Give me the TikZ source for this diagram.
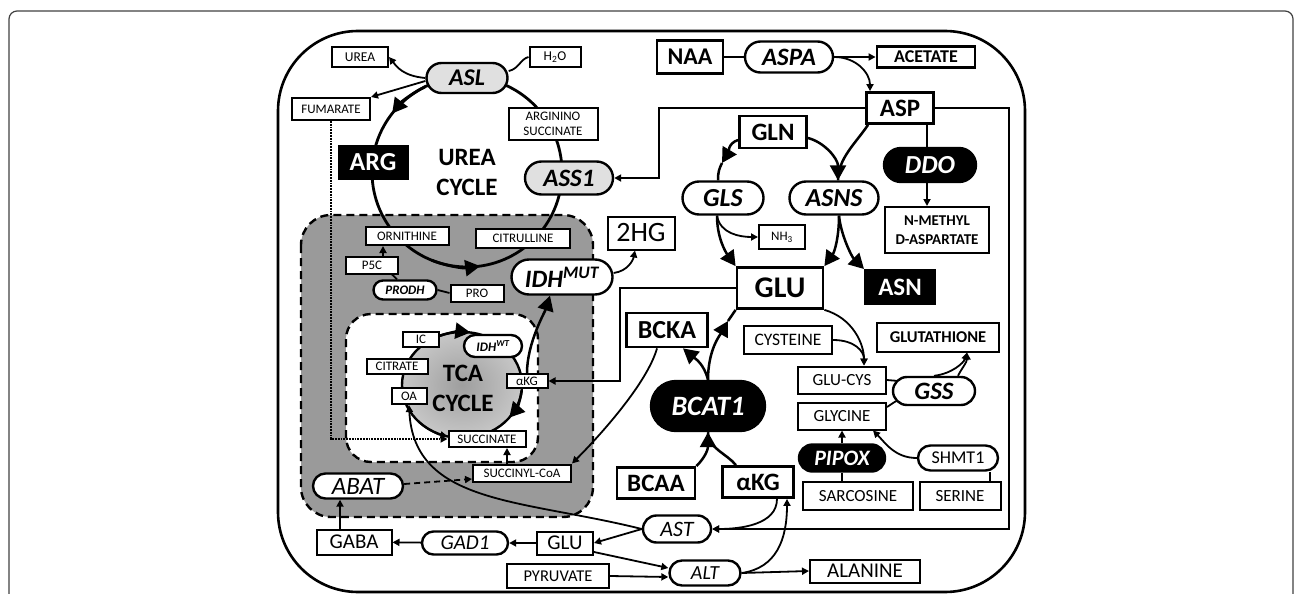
\documentclass[tikz,border=0pt]{standalone}
\usepackage{fontspec}
\setmainfont{Carlito}
\usetikzlibrary{arrows.meta,shapes.misc,calc}
\newcommand\fsz[1]{\fontsize{#1}{#1}\selectfont}
\definecolor{lgray}{HTML}{E0E0E0}
\definecolor{rgray}{HTML}{9A9A9A}
\begin{document}
\begin{tikzpicture}[x=1pt,y=-1pt,
 sz/.style 2 args={minimum width=#1pt, minimum height=#2pt},
 box/.style={draw, fill=white, rectangle, inner sep=0pt, line width=2pt, align=center},
 bx/.style={box, line width=2.8pt, font=\bfseries\fsz{25}},
 pill/.style={draw, fill=white, rounded rectangle, inner sep=0pt, line width=2.4pt},
 blk/.style={fill=black, text=white},
 ln/.style={line width=1.8pt},
 thk/.style={line width=2.5pt},
 arr/.style={line width=1.8pt, -{Triangle[length=7pt,width=7pt]}},
 bigarr/.style={line width=2.5pt, -{Triangle[length=15pt,width=16pt]}}
]
\useasboundingbox (0,0) rectangle (1296,594);
% outer frame
\begin{scope}
\clip (0,0) rectangle (1296,594);
\draw[line width=1.2pt, black!75, rounded corners=8pt] (9,11) rectangle (1293,640);
\end{scope}
% cell
\draw[line width=2.6pt, rounded corners=80pt] (278,31) rectangle (1025,592);
% mitochondrion regions
\draw[line width=2.4pt, dash pattern=on 8pt off 5pt, fill=rgray, rounded corners=30pt] (301,215) rectangle (593,517);
\draw[line width=2.4pt, dash pattern=on 8pt off 5pt, fill=white, rounded corners=25pt] (346,314) rectangle (538,462);
% TCA cycle
\coordinate (tc) at (462,385);
\begin{scope}
\clip (tc) ellipse[x radius=60, y radius=53];
\shade[inner color=black!38, outer color=black!6] (tc) ellipse[x radius=120, y radius=106];
\end{scope}
\draw[line width=2.4pt] (tc) ellipse[x radius=60, y radius=53];
\draw[bigarr] ($(tc)+(-112:60 and 53)$) arc[start angle=-112, end angle=-82, x radius=60, y radius=53];
\draw[bigarr] ($(tc)+(6:60 and 53)$) arc[start angle=6, end angle=38, x radius=60, y radius=53];
\draw[arr] ($(tc)+(135:60 and 53)$) arc[start angle=135, end angle=104, x radius=60, y radius=53];
% urea cycle
\coordinate (uc) at (467,172);
\draw[line width=2.8pt] (uc) circle[radius=95];
\draw[bigarr, line width=2.8pt] ($(uc)+(-116:95)$) arc[start angle=-116, end angle=-142, radius=95];
\draw[bigarr, line width=2.8pt] ($(uc)+(112:95)$) arc[start angle=112, end angle=82, radius=95];

% nodes
\node[box,sz={56}{20},font=\fsz{13.5}] (urea) at (360,57) {UREA};
\node[box,sz={51}{20},font=\fsz{13.5}] (h2o) at (555,57) {H\textsubscript{2}O};
\node[pill,sz={81}{30},fill=lgray,font=\bfseries\itshape\fsz{24}] (asl) at (467,78) {ASL};
\node[box,sz={78}{22},font=\fsz{13}] (fum) at (331,109) {FUMARATE};
\node[box,sz={89}{32},font=\fontsize{13}{15}\selectfont] (asuc) at (553,124) {ARGININO\\SUCCINATE};
\node[box,blk,sz={69}{33},font=\bfseries\fsz{26}] (arg) at (373,162) {ARG};
\node[font=\bfseries\fontsize{25}{30}\selectfont, align=center] (uct) at (467,172) {UREA\\CYCLE};
\node[pill,sz={88}{33},fill=lgray,font=\bfseries\itshape\fsz{25}] (ass) at (569,178) {ASS1};
\node[box,sz={83}{18},font=\fsz{13}] (orn) at (407,236) {ORNITHINE};
\node[box,sz={94}{19},font=\fsz{13}] (cit) at (523,238) {CITRULLINE};
\node[box,sz={52}{17},font=\fsz{13}] (p5c) at (372,265) {P5C};
\node[pill,sz={63}{19},font=\bfseries\itshape\fsz{13}] (prodh) at (405,290) {PRODH};
\node[box,sz={53}{17},font=\fsz{13}] (pro) at (477,293) {PRO};
\node[pill,sz={101}{35},font=\bfseries\itshape\fsz{25}] (idhm) at (562,277) {IDH\textsuperscript{MUT}};
\node[box,sz={67}{33},font=\fsz{28}] (hg) at (641,233) {2HG};
\node[box,sz={36}{15},font=\fsz{13}] (ic) at (421,339) {IC};
\node[pill,sz={58}{22},font=\bfseries\itshape\fsz{13}] (idhw) at (493,346) {IDH\textsuperscript{WT}};
\node[box,sz={61}{15},font=\fsz{13}] (citr) at (397,366) {CITRATE};
\node[box,sz={41}{14},font=\fsz{13}] (akga) at (527,381) {αKG};
\node[box,sz={35}{16},font=\fsz{13}] (oa) at (409,396) {OA};
\node[font=\bfseries\fontsize{25}{30}\selectfont, align=center] (tcat) at (463,388) {TCA\\CYCLE};
\node[box,sz={77}{16},font=\fsz{13}] (succ) at (487,439) {SUCCINATE};
\node[box,sz={98}{17},font=\fsz{13}] (scoa) at (522,473) {SUCCINYL-CoA};
\node[pill,sz={90}{25},font=\itshape\fsz{25}] (abat) at (358,486) {ABAT};
\node[box,sz={75}{25},font=\fsz{21}] (gaba) at (354,542) {GABA};
\node[pill,sz={86}{23},font=\itshape\fsz{21}] (gad) at (465,543) {GAD1};
\node[box,sz={56}{23},font=\fsz{21}] (glub) at (565,543) {GLU};
\node[box,sz={102}{24},font=\fsz{16.5}] (pyr) at (558,576) {PYRUVATE};
\node[pill,blk,sz={114}{50},font=\bfseries\itshape\fsz{28}] (bcat) at (708,406) {BCAT1};
\node[bx,sz={81}{34},font=\bfseries\fsz{26}] (bcka) at (667,330) {BCKA};
\node[bx,sz={86}{41},font=\bfseries\fsz{30}] (glu) at (780,288) {GLU};
\node[box,sz={88}{28},font=\fsz{17.5}] (cys) at (788,340) {CYSTEINE};
\node[box,sz={122}{29},font=\bfseries\fsz{16.5}] (gsh) at (938,337) {GLUTATHIONE};
\node[box,sz={88}{27},font=\fsz{17}] (gc) at (842,380) {GLU-CYS};
\node[pill,sz={82}{28},font=\bfseries\itshape\fsz{25}] (gss) at (934,391) {GSS};
\node[box,sz={88}{27},font=\fsz{17}] (gly) at (842,416) {GLYCINE};
\node[pill,blk,sz={86}{27},font=\bfseries\itshape\fsz{22}] (pipox) at (842,458) {PIPOX};
\node[box,sz={110}{28},font=\fsz{17}] (sar) at (858,496) {SARCOSINE};
\node[pill,sz={80}{25},font=\fsz{18}] (shmt) at (958,458) {SHMT1};
\node[box,sz={81}{28},font=\fsz{17}] (ser) at (960,496) {SERINE};
\node[bx,sz={78}{31}] (bcaa) at (656,483) {BCAA};
\node[bx,sz={71}{31}] (akgb) at (758,482) {αKG};
\node[pill,sz={68}{27},font=\itshape\fsz{22}] (ast) at (677,529) {AST};
\node[pill,sz={71}{25},font=\itshape\fsz{20}] (alt) at (705,573) {ALT};
\node[box,sz={110}{23},font=\fsz{21}] (ala) at (865,571) {ALANINE};
\node[bx,sz={66}{33},font=\bfseries\fsz{24}] (naa) at (690,57) {NAA};
\node[pill,sz={88}{31},font=\bfseries\itshape\fsz{25}] (aspa) at (789,57) {ASPA};
\node[bx,sz={98}{21},font=\bfseries\fsz{18}] (acet) at (926,57) {ACETATE};
\node[bx,sz={67}{31}] (asp) at (900,108) {ASP};
\node[bx,sz={67}{32}] (gln) at (773,132) {GLN};
\node[pill,blk,sz={92}{34},font=\bfseries\itshape\fsz{26}] (ddo) at (930,165) {DDO};
\node[pill,sz={81}{33},font=\bfseries\itshape\fsz{26}] (gls) at (723,198) {GLS};
\node[pill,sz={89}{33},font=\bfseries\itshape\fsz{26}] (asns) at (834,198) {ASNS};
\node[box,sz={104}{46},font=\bfseries\fontsize{15}{19}\selectfont] (nmda) at (937,230) {N-METHYL\\D-ASPARTATE};
\node[box,sz={46}{24},font=\fsz{13}] (nh3) at (782,237) {NH\textsubscript{3}};
\node[box,blk,sz={70}{34},font=\bfseries\fsz{25}] (asn) at (900,287) {ASN};

% helper coordinates
\coordinate (k1) at (659,178);
\coordinate (k2) at (620,381);
\coordinate (k3) at (1009,108);
\coordinate (k4) at (1009,529);
\coordinate (m1) at (722,163);
\coordinate (m2) at (728,321);

% urea side
\draw[arr] (asl.west) .. controls +(-22,-2) and +(8,10) .. (urea.east);
\draw[ln] ([yshift=7pt]asl.east) .. controls +(10,-2) and +(-8,2) .. (h2o.west);
\draw[arr] ([yshift=-3pt]asl.west) -- (fum.north east);
\draw[ln, densely dotted, -{Triangle[length=7pt,width=7pt]}] (fum.south) |- (succ.west);
\draw[arr] (asp.west) -| (k1) -- (ass.east);
\draw[arr] ([xshift=11pt]p5c.north) -- ([xshift=-24pt]orn.south);
\draw[ln] ([xshift=20pt]p5c.south) -- ([xshift=-8pt]prodh.north);
\draw[ln] (prodh.east) -- (pro.west);

% NAA / ASP
\draw[ln] (naa) -- (aspa);
\draw[arr] (aspa) -- (acet);
\draw[arr] (aspa.east) .. controls +(22,0) and +(0,-18) .. ([xshift=-30pt]asp.north);
\draw[ln] ([xshift=27pt]asp.south) -- ([xshift=-3pt]ddo.north);
\draw[arr] ([xshift=-3pt]ddo.south) -- ([xshift=-10pt]nmda.north);
\draw[arr] (asp.east) -- (k3) -- (k4) -- (ast.east);

% GLN / GLU
\draw[bigarr] ([yshift=-8pt]gln.west) .. controls +(-10,3) and +(6,-10) .. (m1);
\draw[thk] (m1) .. controls +(-3,6) and +(0,-8) .. ([xshift=-5pt]gls.north);
\draw[bigarr] ([xshift=-6pt]gls.south) .. controls +(0,22) and +(-10,-14) .. (glu.north west);
\draw[arr] ([xshift=-6pt]gls.south) .. controls +(3,18) and +(-18,0) .. (nh3.west);
\draw[thk] ([xshift=-32pt]asp.south) .. controls +(-12,18) and +(0,-22) .. ([xshift=4pt]asns.north);
\draw[bigarr] ([yshift=-6pt]gln.east) .. controls +(16,4) and +(0,-22) .. ([xshift=4pt]asns.north);
\draw[bigarr] ([xshift=5pt]asns.south) .. controls +(0,22) and +(10,-14) .. (glu.north east);
\draw[bigarr] ([xshift=5pt]asns.south) .. controls +(2,20) and +(-12,-12) .. (asn.north west);
\draw[arr] (glu.west) -| (k2) -- (akga.east);

% BCAT1
\draw[bigarr] (bcat.north) .. controls +(-4,-16) and +(12,10) .. ([xshift=16pt]bcka.south);
\draw[bigarr] (bcat.north) .. controls +(0,-30) and +(-8,14) .. (m2);
\draw[thk] (m2) .. controls +(3,-6) and +(-4,6) .. (glu.south west);
\draw[thk] ([xshift=-22pt]akgb.north) .. controls +(-10,-12) and +(0,16) .. (bcat.south);
\draw[bigarr] (bcaa.north east) .. controls +(10,-10) and +(0,16) .. (bcat.south);
\draw[arr] ([xshift=-10pt]bcka.south) .. controls +(-10,35) and +(28,-28) .. (scoa.north east);

% glutathione
\draw[arr] (glu.south east) .. controls +(28,8) and +(0,-22) .. ([xshift=22pt]gc.north);
\draw[arr] (cys.east) .. controls +(22,0) and +(0,-14) .. ([xshift=22pt]gc.north);
\draw[ln] (gc.east) -- (gss.165);
\draw[ln] ([yshift=9pt]gly.east) -- (gss.195);
\draw[arr] (gss.north) .. controls +(18,-2) and +(-3,10) .. ([xshift=29pt]gsh.south);
\draw[arr] ([xshift=24pt]gss.north) .. controls +(4,-8) and +(0,10) .. ([xshift=29pt]gsh.south);
\draw[ln] (pipox.south) -- (pipox.south |- sar.north);
\draw[arr] (pipox.north) -- (gly.south);
\draw[ln] ([xshift=30pt]ser.north) -- ([xshift=30pt]ser.north |- shmt.south);
\draw[arr] (shmt.west) .. controls +(-22,0) and +(12,12) .. ([xshift=31pt]gly.south);

% transaminases
\draw[arr] ([xshift=19pt]akgb.south) .. controls +(0,26) and +(28,0) .. (ast.east);
\draw[arr] (alt.east) .. controls +(35,-5) and +(0,40) .. ([xshift=29pt]akgb.south);
\draw[arr] (alt.east) -- (ala.west);
\draw[arr] (pyr.east) -- ([yshift=-4pt]alt.west);
\draw[arr] ([yshift=-9pt]glub.east) -- ([yshift=5pt]alt.west);
\draw[arr] (ast.west) -- (glub.east);
\draw[arr] (ast.west) .. controls +(-120,-30) and +(5,100) .. (oa.south);

% mitochondrion
\draw[bigarr] (akga.north) .. controls +(0,-30) and +(-5,16) .. ([xshift=-12pt]idhm.south);
\draw[arr] ([yshift=4pt]idhm.east) .. controls +(14,-2) and +(-2,10) .. ([xshift=-6pt]hg.south);
\draw[arr] ([xshift=-15pt]scoa.north) -- ([xshift=-15pt]scoa.north |- succ.south);
\draw[arr, dash pattern=on 6pt off 4pt] ([yshift=2pt]abat.east) -- ([yshift=-6pt]scoa.west);
\draw[arr] ([xshift=-14pt]gaba.north) -- ([xshift=-18pt]abat.south);
\draw[arr] (gad) -- (gaba);
\draw[arr] (glub) -- (gad);
\end{tikzpicture}
\end{document}
